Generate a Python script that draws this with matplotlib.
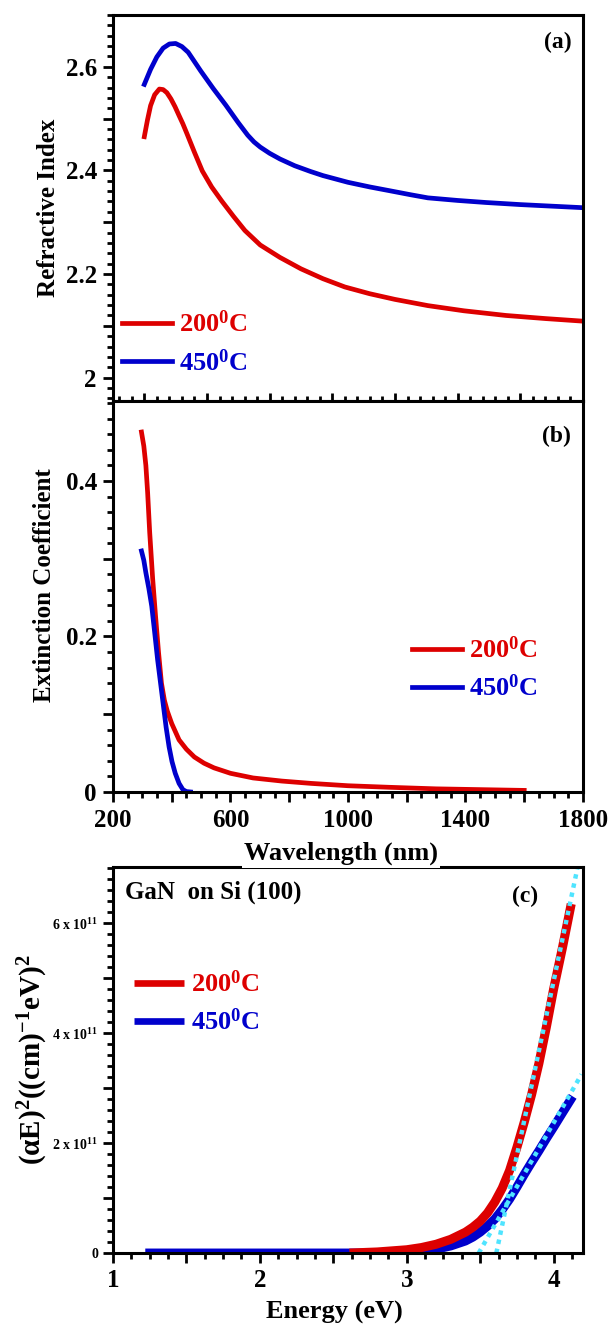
import matplotlib
matplotlib.use("Agg")
import matplotlib.pyplot as plt
import numpy as np
from matplotlib.ticker import MultipleLocator, FixedLocator

# ---- data ----
# (a) refractive index vs wavelength (nm)
wl_n_200 = [300, 310, 320, 333, 348, 360, 372, 385, 398, 410, 423, 436, 460, 485, 515, 547, 585,
            621, 670, 733, 800, 870, 940, 1019, 1100, 1205, 1320, 1454, 1580, 1700]
n_200 = [2.465, 2.497, 2.525, 2.546, 2.557, 2.556, 2.550, 2.538, 2.523, 2.507, 2.490, 2.471,
         2.435, 2.399, 2.368, 2.341, 2.311, 2.284, 2.256, 2.232, 2.210, 2.191, 2.175, 2.162,
         2.151, 2.139, 2.129, 2.120, 2.114, 2.109]
wl_n_450 = [300, 320, 340, 360, 380, 400, 420, 440, 480, 520, 560, 600, 630, 650, 670, 700, 733,
            780, 830, 870, 950, 1020, 1081, 1150, 1205, 1300, 1391, 1500, 1600, 1700]
n_450 = [2.566, 2.595, 2.619, 2.636, 2.644, 2.645, 2.639, 2.628, 2.592, 2.558, 2.526, 2.492,
         2.468, 2.455, 2.445, 2.433, 2.422, 2.409, 2.398, 2.390, 2.377, 2.368, 2.361, 2.353,
         2.347, 2.342, 2.338, 2.334, 2.331, 2.328]

# (b) extinction coefficient vs wavelength (nm)
wl_k_200 = [297, 305, 312, 318, 325, 335, 345, 355, 365, 375, 385, 400, 425, 450, 477, 510, 544,
            600, 677, 775, 875, 1000, 1140, 1300, 1450, 1600]
k_200 = [0.463, 0.445, 0.420, 0.385, 0.334, 0.275, 0.226, 0.180, 0.140, 0.118, 0.104, 0.088,
         0.067, 0.055, 0.045, 0.037, 0.031, 0.024, 0.018, 0.014, 0.011, 0.008, 0.006, 0.004,
         0.003, 0.002]
wl_k_450 = [297, 305, 312, 322, 332, 342, 352, 362, 372, 381, 391, 401, 412, 425, 438, 450, 464]
k_450 = [0.310, 0.298, 0.282, 0.262, 0.239, 0.205, 0.170, 0.140, 0.110, 0.083, 0.058, 0.039,
         0.024, 0.011, 0.003, 0.0005, 0.0]

# (c) (alpha E)^2 vs energy (eV), in units of 1e11
e_200 = [2.61, 2.8, 3.0, 3.1, 3.2, 3.3, 3.4, 3.45, 3.5, 3.55, 3.6, 3.65, 3.7, 3.75, 3.8, 3.85,
         3.9, 3.95, 4.0, 4.06, 4.12]
ae_200 = np.array([0.0, 0.02, 0.06, 0.10, 0.16, 0.25, 0.38, 0.47, 0.58, 0.73, 0.93, 1.18, 1.50,
                   1.92, 2.38, 2.88, 3.45, 4.10, 4.80, 5.55, 6.35]) * 1e11
e_450 = [1.22, 2.0, 2.8, 3.0, 3.1, 3.2, 3.3, 3.4, 3.45, 3.5, 3.55, 3.6, 3.65, 3.7, 3.75, 3.8,
         3.85, 3.9, 3.95, 4.0, 4.06, 4.13]
ae_450 = np.array([0.0, 0.0, 0.0, 0.01, 0.03, 0.07, 0.13, 0.22, 0.29, 0.38, 0.49, 0.62, 0.79,
                   0.98, 1.20, 1.43, 1.65, 1.86, 2.08, 2.29, 2.55, 2.85]) * 1e11
fit_e_200 = [3.61, 4.17]
fit_ae_200 = np.array([0.0, 7.1]) * 1e11
fit_e_450 = [3.49, 4.19]
fit_ae_450 = np.array([0.0, 3.25]) * 1e11

labels = ["200$^{0}$C", "450$^{0}$C"]

# tick labels
a_yticks = [2.0, 2.1, 2.2, 2.3, 2.4, 2.5, 2.6]
a_yticklabels = ["2", "", "2.2", "", "2.4", "", "2.6"]
a_xticks = [300, 500, 700, 900, 1100, 1300, 1500, 1700]
b_xticks = [200, 400, 600, 800, 1000, 1200, 1400, 1600, 1800]
b_xticklabels = ["200", "", "600", "", "1000", "", "1400", "", "1800"]
b_yticks = [0.0, 0.1, 0.2, 0.3, 0.4]
b_yticklabels = ["0", "", "0.2", "", "0.4"]
c_xticks = [1.0, 1.5, 2.0, 2.5, 3.0, 3.5, 4.0]
c_xticklabels = ["1", "", "2", "", "3", "", "4"]
c_yticks = np.array([0, 1, 2, 3, 4, 5, 6]) * 1e11
c_yticklabels = ["0", "", "2 x 10$^{11}$", "", "4 x 10$^{11}$", "", "6 x 10$^{11}$"]

RED = "#DD0000"
BLUE = "#0000CC"
CYAN = "#4FE4FF"

plt.rcParams["font.family"] = ["Liberation Serif", "DejaVu Serif"]
plt.rcParams["font.weight"] = "bold"
plt.rcParams["mathtext.fontset"] = "custom"
plt.rcParams["mathtext.rm"] = "Liberation Serif:bold"
plt.rcParams["mathtext.it"] = "Liberation Serif:italic:bold"
plt.rcParams["mathtext.bf"] = "Liberation Serif:bold"
plt.rcParams["mathtext.default"] = "rm"

FS = 18
LEG = dict(frameon=False, fontsize=19, handlelength=1.9, handletextpad=0.25, labelspacing=0.45,
           borderpad=0, borderaxespad=0, labelcolor="linecolor", loc="center left")

fig = plt.figure(figsize=(6.1, 13.25), dpi=100)
ax_a = fig.add_axes([0.1852, 0.6974, 0.7705, 0.2913])
ax_b = fig.add_axes([0.1852, 0.4023, 0.7705, 0.2951])
ax_c = fig.add_axes([0.1852, 0.0543, 0.7705, 0.2913])
ax_b.set_zorder(2)  # so the xlabel box sits over the top spine of (c)

for ax in (ax_a, ax_b, ax_c):
    for s in ax.spines.values():
        s.set_linewidth(2.2)
    ax.tick_params(which="both", top=False, right=False, width=2)
    ax.tick_params(which="major", length=7.5)
    ax.tick_params(which="minor", length=4.5)

# ---- (a) ----
ax_a.plot(wl_n_200, n_200, color=RED, lw=3.4, label=labels[0])
ax_a.plot(wl_n_450, n_450, color=BLUE, lw=3.4, label=labels[1])
ax_a.set_xlim(200, 1700)
ax_a.set_ylim(1.955, 2.70)
ax_a.xaxis.set_major_locator(FixedLocator(a_xticks))
ax_a.xaxis.set_minor_locator(MultipleLocator(40, offset=20))
ax_a.tick_params(axis="x", which="both", direction="in", labelbottom=False)
ax_a.tick_params(axis="x", which="major", length=6)
ax_a.tick_params(axis="x", which="minor", length=3.5)
ax_a.set_yticks(a_yticks)
ax_a.set_yticklabels(a_yticklabels)
ax_a.yaxis.set_minor_locator(MultipleLocator(0.02))
ax_a.tick_params(axis="y", which="both", direction="out", labelsize=FS, pad=4)
ax_a.set_ylabel("Refractive Index", fontsize=FS, fontweight="bold")
ax_a.yaxis.set_label_coords(-0.112, 0.5)
ax_a.text(0.975, 0.93, "(a)", transform=ax_a.transAxes, ha="right", va="center", fontsize=17)
ax_a.legend(bbox_to_anchor=(0.019, 0.150), **LEG)

# ---- (b) ----
ax_b.plot(wl_k_200, k_200, color=RED, lw=3.4, label=labels[0])
ax_b.plot(wl_k_450, k_450, color=BLUE, lw=3.4, label=labels[1])
ax_b.set_xlim(200, 1800)
ax_b.set_ylim(0, 0.503)
ax_b.set_xticks(b_xticks)
ax_b.set_xticklabels(b_xticklabels)
ax_b.xaxis.set_minor_locator(MultipleLocator(50))
ax_b.set_yticks(b_yticks)
ax_b.set_yticklabels(b_yticklabels)
ax_b.yaxis.set_minor_locator(MultipleLocator(0.02))
ax_b.tick_params(which="both", direction="out", labelsize=FS)
ax_b.tick_params(axis="y", pad=4)
ax_b.tick_params(axis="x", pad=5)
ax_b.set_ylabel("Extinction Coefficient", fontsize=FS, fontweight="bold")
ax_b.yaxis.set_label_coords(-0.121, 0.53)
ax_b.set_xlabel("Wavelength (nm)", fontsize=19, fontweight="bold",
                bbox=dict(facecolor="white", edgecolor="none", pad=1.5))
ax_b.xaxis.set_label_coords(0.485, -0.128)
ax_b.text(0.975, 0.91, "(b)", transform=ax_b.transAxes, ha="right", va="center", fontsize=17)
ax_b.legend(bbox_to_anchor=(0.636, 0.315), **LEG)

# ---- (c) ----
ax_c.plot(e_450, ae_450, color=BLUE, lw=6.5, label=labels[1], solid_capstyle="butt")
ax_c.plot(e_200, ae_200, color=RED, lw=6.5, label=labels[0], solid_capstyle="butt")
ax_c.plot(fit_e_200, fit_ae_200, color=CYAN, lw=3.2, linestyle=(0, (1, 1.1)), dash_capstyle="butt")
ax_c.plot(fit_e_450, fit_ae_450, color=CYAN, lw=3.2, linestyle=(0, (1, 1.1)), dash_capstyle="butt")
ax_c.set_xlim(1, 4.2)
ax_c.set_ylim(0, 7.02e11)
ax_c.set_xticks(c_xticks)
ax_c.set_xticklabels(c_xticklabels)
ax_c.xaxis.set_minor_locator(MultipleLocator(0.125))
ax_c.set_yticks(c_yticks)
ax_c.set_yticklabels(c_yticklabels)
ax_c.yaxis.set_minor_locator(MultipleLocator(2e10))
ax_c.tick_params(which="both", direction="out")
ax_c.tick_params(axis="x", labelsize=FS, pad=4)
ax_c.tick_params(axis="y", labelsize=10, pad=3)
ax_c.set_xlabel("Energy (eV)", fontsize=19, fontweight="bold")
ax_c.xaxis.set_label_coords(0.472, -0.125)
ax_c.set_ylabel("(\u03b1E)$^{2}$((cm)$^{-1}$eV)$^{2}$", fontsize=21, fontweight="bold")
ax_c.yaxis.set_label_coords(-0.135, 0.5)
ax_c.text(0.025, 0.935, "GaN  on Si (100)", transform=ax_c.transAxes, ha="left", va="center",
          fontsize=18)
ax_c.text(0.905, 0.925, "(c)", transform=ax_c.transAxes, ha="right", va="center", fontsize=17)
h, l = ax_c.get_legend_handles_labels()
leg_c = ax_c.legend(h[::-1], l[::-1], bbox_to_anchor=(0.045, 0.648), **LEG)
for ln in leg_c.get_lines():
    ln.set_linewidth(4.8)

fig.savefig("out.png", dpi=100)
